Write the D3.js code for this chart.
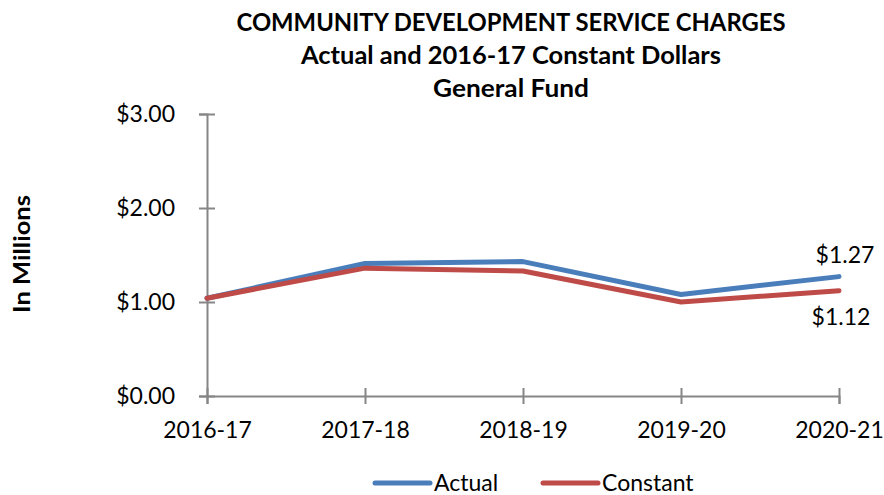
<!DOCTYPE html>
<html>
<head>
<meta charset="utf-8">
<script src="https://cdn.jsdelivr.net/npm/d3@7"></script>
<style>
  html, body { margin: 0; padding: 0; background: #fff; }
  svg { display: block; font-family: Lato, "Open Sans", sans-serif; }
</style>
</head>
<body>
<svg id="chart" width="884" height="495"></svg>
<script>
// Fiscal years on the x axis
const years = ["2016-17", "2017-18", "2018-19", "2019-20", "2020-21"];
// Service charges in millions of dollars
const actualValues = [1.04, 1.41, 1.43, 1.08, 1.27];
const constantValues = [1.04, 1.36, 1.33, 1.00, 1.12];
const yTickValues = [0, 1, 2, 3];
const titleLines = [
  "COMMUNITY DEVELOPMENT SERVICE CHARGES",
  "Actual and 2016-17 Constant Dollars",
  "General Fund"
];

const seriesList = [
  { name: "Actual", values: actualValues, color: "#4A7EBB" },
  { name: "Constant", values: constantValues, color: "#BE4B48" }
];

const svg = d3.select("#chart");
const plot = { left: 207, right: 839, top: 114, bottom: 396 };
const axisColor = "#868686";
const labelSize = 23;

const x = d3.scalePoint().domain(years).range([plot.left, plot.right]);
const y = d3.scaleLinear().domain([0, 3]).range([plot.bottom, plot.top]);

// Title, three centred lines
const titleY = [31, 64, 97];
const titleW = [549, 420, 156];
titleLines.forEach((t, i) => {
  svg.append("text")
    .attr("x", 511).attr("y", titleY[i])
    .attr("text-anchor", "middle")
    .attr("font-weight", "bold")
    .attr("font-size", 25)
    .attr("textLength", titleW[i])
    .attr("lengthAdjust", "spacingAndGlyphs")
    .attr("fill", "#000")
    .text(t);
});

// Y axis
const yAxis = svg.append("g")
  .attr("transform", `translate(${plot.left},0)`)
  .call(d3.axisLeft(y).tickValues(yTickValues).tickFormat(d => "$" + d3.format(".2f")(d)).tickSize(8).tickPadding(24));
yAxis.select(".domain").attr("stroke", axisColor).attr("stroke-width", 2);
yAxis.selectAll(".tick line").attr("stroke", axisColor).attr("stroke-width", 2).attr("x2", 8).attr("x1", -8);
yAxis.selectAll(".tick text").attr("font-size", labelSize).attr("fill", "#000").attr("font-family", "Lato, sans-serif");

// X axis
const xAxis = svg.append("g")
  .attr("transform", `translate(0,${plot.bottom})`)
  .call(d3.axisBottom(x).tickSize(8).tickPadding(18));
xAxis.select(".domain").attr("stroke", axisColor).attr("stroke-width", 2);
xAxis.selectAll(".tick line").attr("stroke", axisColor).attr("stroke-width", 2).attr("y1", -8).attr("y2", 8);
xAxis.selectAll(".tick text").attr("font-size", labelSize).attr("fill", "#000").attr("font-family", "Lato, sans-serif");

// Y axis title
svg.append("text")
  .attr("transform", "translate(30,254) rotate(-90)")
  .attr("text-anchor", "middle")
  .attr("font-weight", "bold")
  .attr("font-size", 23)
  .attr("textLength", 118)
  .attr("lengthAdjust", "spacingAndGlyphs")
  .text("In Millions");

// Lines
const line = d3.line().x((d, i) => x(years[i])).y(d => y(d));
seriesList.forEach(s => {
  svg.append("path")
    .datum(s.values)
    .attr("fill", "none")
    .attr("stroke", s.color)
    .attr("stroke-width", 5)
    .attr("stroke-linejoin", "round")
    .attr("stroke-linecap", "round")
    .attr("d", line);
});

// End value labels
const last = years.length - 1;
svg.append("text")
  .attr("x", x(years[last]) + 6).attr("y", y(actualValues[last]) - 14)
  .attr("text-anchor", "middle")
  .attr("font-size", labelSize)
  .text("$" + actualValues[last].toFixed(2));
svg.append("text")
  .attr("x", x(years[last]) + 2).attr("y", y(constantValues[last]) + 34)
  .attr("text-anchor", "middle")
  .attr("font-size", labelSize)
  .text("$" + constantValues[last].toFixed(2));

// Legend
const legendX = [375, 543];
seriesList.forEach((s, i) => {
  const g = svg.append("g").attr("transform", `translate(${legendX[i]},483)`);
  g.append("line").attr("x1", 0).attr("x2", 55).attr("y1", 0).attr("y2", 0)
    .attr("stroke", s.color).attr("stroke-width", 5).attr("stroke-linecap", "round");
  g.append("text").attr("x", 59).attr("y", 8).attr("font-size", labelSize).text(s.name);
});
</script>
</body>
</html>
